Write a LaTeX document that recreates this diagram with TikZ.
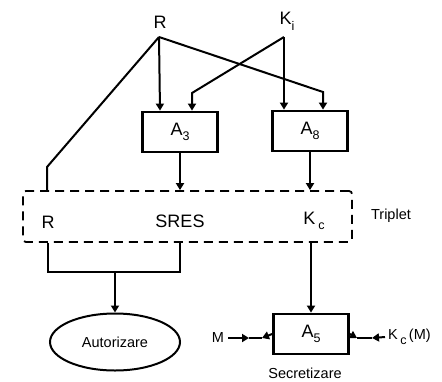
\documentclass[tikz,border=0pt]{standalone}
\usepackage{fontspec}
\setmainfont{Liberation Sans}
\usetikzlibrary{arrows.meta,shapes.geometric}
\newcommand\lowsub[1]{\raisebox{-0.6ex}{\fontsize{12.5}{12.5}\selectfont #1}}
\begin{document}
\begin{tikzpicture}[x=1pt,y=-1pt,
  wire/.style={line width=2pt},
  arr/.style={wire,-{Triangle[width=8pt,length=7pt]}},
  block/.style={draw,line width=2.8pt,minimum width=75pt,minimum height=40pt,inner sep=0pt},
  big/.style={font=\fontsize{18}{18}\selectfont,inner sep=0pt},
  small/.style={font=\fontsize{14.5}{14.5}\selectfont,inner sep=0pt}
]
\useasboundingbox (0,0) rectangle (442,381);

% inputs
\node[big] (R) at (160,22) {R};
\node[big] (Ki) at (287,21) {K\lowsub{i}};
\coordinate (Rsrc) at (159,37);
\coordinate (Ksrc) at (284,37);

% algorithm blocks
\node[block,big] (A3) at (180,132) {A\lowsub{3}};
\node[block,big] (A8) at (310,131) {A\lowsub{8}};

% triplet
\node[draw,line width=1.8pt,dash pattern=on 9pt off 6pt,rounded corners=3pt,
      minimum width=329pt,minimum height=51pt,inner sep=0pt] (trip) at (187.5,216.5) {};
\node[big] (tR) at (48,222) {R};
\node[big] (tS) at (180,221) {SRES};
\node[big] (tK) at (314,221) {K\,\lowsub{c}};
\node[small] (tlab) at (391,216) {Triplet};

% connections into the algorithm blocks
\draw[arr] (Rsrc) -- ([xshift=-20pt]A3.north);
\coordinate (c1) at (323,92);
\draw[arr] (Rsrc) -- (c1) -- (c1 |- A8.north);
\coordinate (c2) at (192,93);
\draw[arr] (Ksrc) -- (c2) -- (c2 |- A3.north);
\draw[arr] (Ksrc) -- (Ksrc |- A8.north);
\coordinate (c3) at (47,167);
\draw[wire] (Rsrc) -- (c3) -- (c3 |- trip.north);

% outputs into the triplet
\draw[arr] (A3.south) -- (A3.south |- trip.north);
\draw[arr] (A8.south) -- (A8.south |- trip.north);

% authorisation
\node[draw,ellipse,line width=2pt,minimum width=130pt,minimum height=57pt,
      small] (auth) at (115,342) {Autorizare};
\coordinate (b1) at (48,272);
\coordinate (b2) at (180,272);
\draw[wire] (b1 |- trip.south) -- (b1) -- (b2) -- (b2 |- trip.south);
\draw[arr] (auth.north |- b1) -- (auth.north);

% ciphering
\node[block,big] (A5) at (311,334) {A\lowsub{5}};
\draw[arr] (A5.north |- trip.south) -- (A5.north);
\node[small] (M) at (218,338) {M};
\node[small,anchor=west] (KcM) at (388,337) {K\,\lowsub{c}\,(M)};
\coordinate (m0) at ([xshift=4pt]M.east);
\coordinate (m1) at (249,338);
\coordinate (m2) at (262,338);
\draw[arr] (m0) -- (m1);
\draw[arr] (A5.west) -- (m2);
\draw[wire] (m1) -- (m2);
\coordinate (k0) at ([xshift=-3pt]KcM.west);
\coordinate (k1) at (357,338);
\coordinate (k2) at (372,338);
\draw[arr] (A5.east) -- (k1);
\draw[arr] (k0) -- (k2);
\draw[wire] (k1) -- (k2);
\node[small] (sec) at (305,373) {Secretizare};
\end{tikzpicture}
\end{document}
